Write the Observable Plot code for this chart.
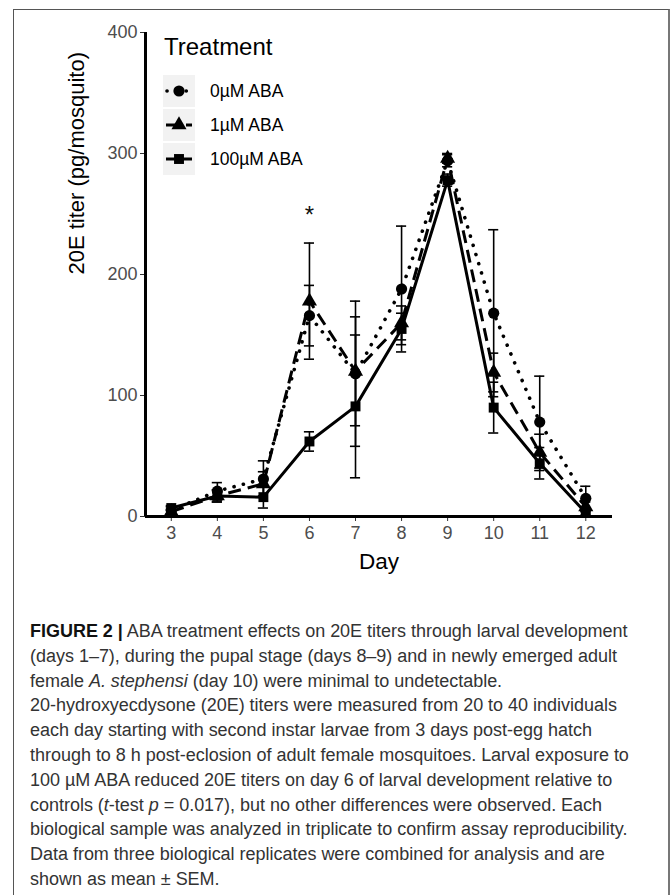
<!DOCTYPE html>
<html><head><meta charset="utf-8">
<script src="https://cdn.jsdelivr.net/npm/d3@7"></script>
<script src="https://cdn.jsdelivr.net/npm/@observablehq/plot@0.6"></script>
<style>
html,body{margin:0;padding:0;background:#fff}
body{width:672px;height:895px;overflow:hidden;position:relative;font-family:"Liberation Sans",Arial,sans-serif}
#frame{position:absolute;left:13px;top:9px;width:657px;height:900px;border-top:1px solid #555;border-left:1px solid #555;border-right:2px solid #777;box-sizing:border-box;pointer-events:none}
#chart{position:absolute;left:0;top:0}
#legend{position:absolute;left:163px;top:33px;color:#000}
#legend .title{font-size:24px;line-height:28px;margin-bottom:14px;margin-left:1px}
#legend .row{display:flex;align-items:center;height:32px;margin-bottom:2px}
#legend .key{width:32px;height:32px;background:#f2f2f2}
#legend .lab{margin-left:15px;font-size:17.5px}
#caption{position:absolute;left:30px;top:619px;font-size:18px;line-height:24.8px;color:#333;letter-spacing:-0.02px;white-space:nowrap}
#caption b{color:#111}
</style></head>
<body>
<div id="chart"></div>
<div id="legend"></div>
<div id="caption">
<div><b>FIGURE 2 |</b> ABA treatment effects on 20E titers through larval development</div>
<div>(days 1–7), during the pupal stage (days 8–9) and in newly emerged adult</div>
<div>female <i>A. stephensi</i> (day 10) were minimal to undetectable.</div>
<div>20-hydroxyecdysone (20E) titers were measured from 20 to 40 individuals</div>
<div>each day starting with second instar larvae from 3 days post-egg hatch</div>
<div>through to 8 h post-eclosion of adult female mosquitoes. Larval exposure to</div>
<div>100 µM ABA reduced 20E titers on day 6 of larval development relative to</div>
<div>controls (<i>t</i>-test <i>p</i> = 0.017), but no other differences were observed. Each</div>
<div>biological sample was analyzed in triplicate to confirm assay reproducibility.</div>
<div>Data from three biological replicates were combined for analysis and are</div>
<div>shown as mean ± SEM.</div>
</div>
<div id="frame"></div>
<script>
const days = [3, 4, 5, 6, 7, 8, 9, 10, 11, 12];
const treatments = ["0µM ABA", "1µM ABA", "100µM ABA"];
const mean0 = [5, 21, 31, 166, 118, 188, 294, 168, 78, 15];
const se0   = [3, 7, 15, 25, 60, 52, 5, 69, 38, 10];
const mean1 = [4, 17, 27, 178, 120, 160, 296, 119, 53, 8];
const se1   = [2, 5, 10, 48, 45, 14, 4, 16, 15, 4];
const mean100 = [7, 17, 16, 62, 91, 155, 278, 90, 44, 3];
const se100   = [2, 5, 9, 8, 59, 13, 5, 21, 13, 2];
const sigDays = [6];
const sigLevel = [254];
const yTicks = [0, 100, 200, 300, 400];

const symbols = ["circle", "triangle", "square"];
const dashes = ["0.1 9.5", "13 7", null];

const means = [mean0, mean1, mean100];
const ses = [se0, se1, se100];
const data = treatments.flatMap((t, i) => days.map((d, j) => ({
  day: d, treatment: t, mean: means[i][j], se: ses[i][j]
})));
const xDomain = [2.44, 12.58];

const lineMarks = treatments.map((t, i) => Plot.line(data.filter(d => d.treatment === t), {
  x: "day", y: "mean", stroke: "#000", strokeWidth: i === 0 ? 3.6 : 3,
  strokeDasharray: dashes[i], strokeLinecap: i === 0 ? "round" : "butt"
}));

const capHalf = 0.11;
const chart = Plot.plot({
  width: 672, height: 590,
  marginLeft: 145, marginRight: 60, marginTop: 32, marginBottom: 74,
  style: {fontFamily: "Liberation Sans, Arial, sans-serif", background: "transparent"},
  x: {domain: xDomain},
  y: {domain: [0, 400]},
  symbol: {domain: treatments, range: symbols},
  marks: [
    Plot.axisY({ticks: yTicks, tickSize: 5, tickPadding: 3, fontSize: 18, fill: "#4d4d4d", stroke: "#333", label: null}),
    Plot.axisX({ticks: days, tickSize: 5, tickPadding: 5, fontSize: 18, fill: "#4d4d4d", stroke: "#333", label: null}),
    Plot.text(["20E titer (pg/mosquito)"], {frameAnchor: "left", dx: -69, rotate: -90, fontSize: 22, fill: "#000"}),
    Plot.text(["Day"], {frameAnchor: "bottom", dy: 52, fontSize: 22.5, fill: "#000"}),
    Plot.ruleX(data, {x: "day", y1: d => d.mean - d.se, y2: d => d.mean + d.se, stroke: "#000", strokeWidth: 1.6}),
    Plot.ruleY(data, {x1: d => d.day - capHalf, x2: d => d.day + capHalf, y: d => d.mean + d.se, stroke: "#000", strokeWidth: 1.6}),
    Plot.ruleY(data, {x1: d => d.day - capHalf, x2: d => d.day + capHalf, y: d => d.mean - d.se, stroke: "#000", strokeWidth: 1.6}),
    ...lineMarks,
    Plot.dot(data, {x: "day", y: "mean", symbol: "treatment", fill: "#000", stroke: "none", r: 5.6}),
    Plot.text(sigDays, {x: d => d, y: (d, i) => sigLevel[i], text: () => "*", fontSize: 24, fill: "#111", dy: 6}),
    Plot.ruleX([xDomain[0]], {y1: 0, y2: 400, stroke: "#000", strokeWidth: 3}),
    Plot.ruleY([0], {x1: xDomain[0], x2: xDomain[1], stroke: "#000", strokeWidth: 3, dx: 0})
  ]
});
document.getElementById("chart").appendChild(chart);

// legend
const leg = document.getElementById("legend");
const ttl = document.createElement("div");
ttl.className = "title"; ttl.textContent = "Treatment";
leg.appendChild(ttl);
const symPath = {
  circle: d3.symbol(d3.symbolCircle, Math.PI * 5.6 * 5.6)(),
  triangle: d3.symbol(d3.symbolTriangle, Math.PI * 5.6 * 5.6)(),
  square: d3.symbol(d3.symbolSquare, Math.PI * 5.6 * 5.6)()
};
treatments.forEach((t, i) => {
  const row = document.createElement("div"); row.className = "row";
  const key = document.createElement("div"); key.className = "key";
  const ns = "http://www.w3.org/2000/svg";
  const svg = document.createElementNS(ns, "svg");
  svg.setAttribute("width", 32); svg.setAttribute("height", 32);
  const ln = document.createElementNS(ns, "line");
  ln.setAttribute("x1", i === 0 ? 4 : 3); ln.setAttribute("x2", 29); ln.setAttribute("y1", 16); ln.setAttribute("y2", 16);
  ln.setAttribute("stroke", "#000"); ln.setAttribute("stroke-width", i === 0 ? 3.6 : 3);
  if (dashes[i]) ln.setAttribute("stroke-dasharray", dashes[i]);
  if (i === 0) ln.setAttribute("stroke-linecap", "round");
  svg.appendChild(ln);
  const p = document.createElementNS(ns, "path");
  p.setAttribute("d", symPath[symbols[i]]); p.setAttribute("transform", "translate(16,16)");
  svg.appendChild(p);
  key.appendChild(svg);
  const lab = document.createElement("div"); lab.className = "lab"; lab.textContent = t;
  row.appendChild(key); row.appendChild(lab);
  leg.appendChild(row);
});
</script>
</body></html>
